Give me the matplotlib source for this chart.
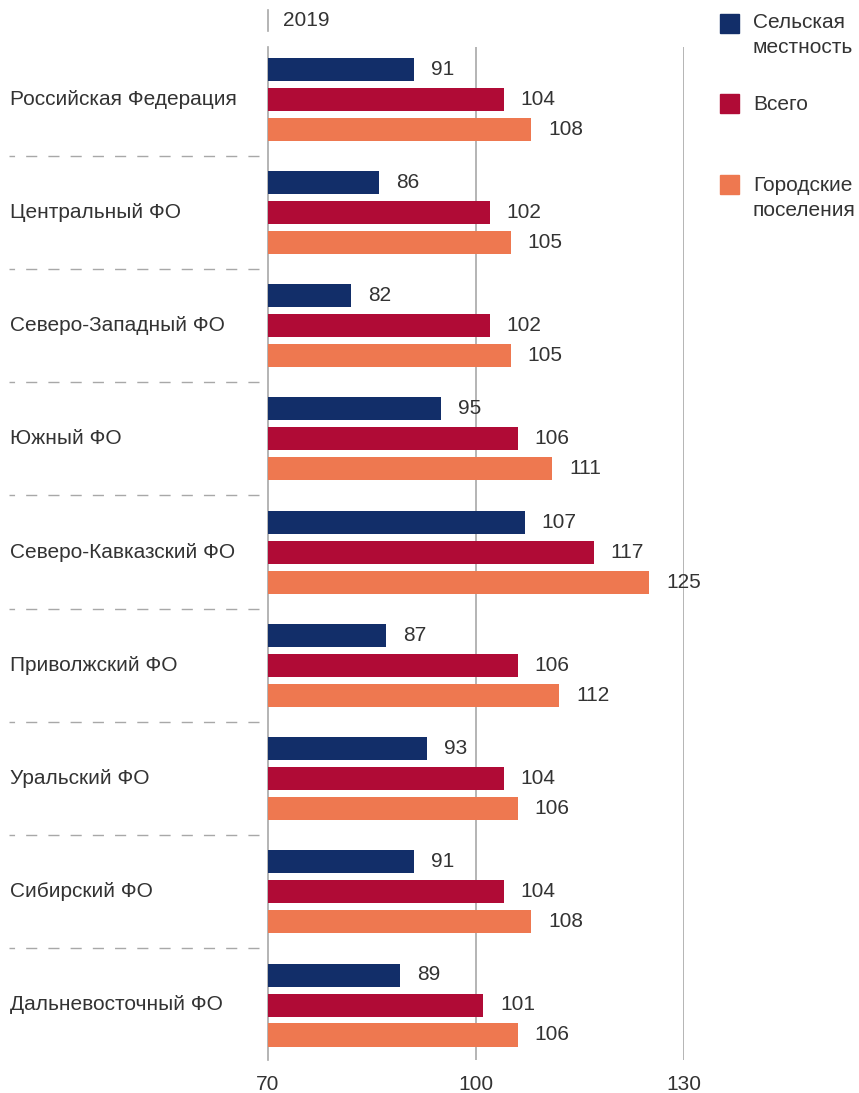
import numpy as np
import matplotlib.pyplot as plt
from matplotlib.lines import Line2D
from matplotlib.patches import Rectangle

plt.rcParams['font.family'] = ['Liberation Sans', 'DejaVu Sans']

# Данные
regions = ['Российская Федерация', 'Центральный ФО', 'Северо-Западный ФО',
           'Южный ФО', 'Северо-Кавказский ФО', 'Приволжский ФО',
           'Уральский ФО', 'Сибирский ФО', 'Дальневосточный ФО']
rural = [91, 86, 82, 95, 107, 87, 93, 91, 89]
total = [104, 102, 102, 106, 117, 106, 104, 104, 101]
urban = [108, 105, 105, 111, 125, 112, 106, 108, 106]
series_names = ['Сельская\nместность', 'Всего', 'Городские\nпоселения']
year_label = '2019'
x_ticks = [70, 100, 130]

colors = ['#122E69', '#B00B36', '#EE7850']
grey = '#A8A8A8'
txt = '#333333'

W, H = 859, 1093
fig = plt.figure(figsize=(W / 100, H / 100), dpi=100)

def fx(px):
    return px / W

def fy(py):
    return 1 - py / H

ax = fig.add_axes([fx(268), fy(1060), fx(684) - fx(268), fy(47) - fy(1060)])

n = len(regions)
pos = np.arange(n)
step = 113.25
off = 30 / step
bh = 23 / step

for k, vals in enumerate([rural, total, urban]):
    yy = pos + (k - 1) * off
    ax.barh(yy, np.array(vals) - 70, left=70, height=bh, color=colors[k], zorder=3)
    for y, v in zip(yy, vals):
        ax.text(v + 17 / 6.93, y, str(v), va='center', ha='left',
                fontsize=15, color=txt, clip_on=False)

ax.set_xlim(70, 130)
ax.set_ylim(n - 1 + (1060 - 99 - 8 * step) / step, (47 - 99) / step)

# Сетка
for t in x_ticks[1:]:
    ax.axvline(t, color=grey, lw=1.2, zorder=1)
for s in ['top', 'right', 'bottom']:
    ax.spines[s].set_visible(False)
ax.spines['left'].set_color(grey)
ax.spines['left'].set_linewidth(1.2)

ax.set_xticks(x_ticks)
ax.set_xticklabels([str(t) for t in x_ticks])
ax.tick_params(axis='x', length=0, pad=11, labelsize=15, labelcolor=txt)
ax.set_yticks([])

# Подписи регионов и пунктирные разделители
trans = ax.get_yaxis_transform()
x0 = (10 - 268) / (684 - 268)
xd = (9 - 268) / (684 - 268)
for i, name in enumerate(regions):
    ax.text(x0, i, name, transform=trans, va='center', ha='left',
            fontsize=15, color=txt)
    if i < n - 1:
        ax.plot([xd, 0], [i + 0.5, i + 0.5], transform=trans, color=grey,
                lw=1.0, ls=(4, (8, 8)), clip_on=False)

# Год сверху
fig.add_artist(Line2D([fx(268), fx(268)], [fy(10), fy(31)],
                      transform=fig.transFigure, color=grey, lw=1.2))
fig.text(fx(283), fy(20), year_label, va='center', ha='left', fontsize=15, color=txt)

# Легенда
sq_y = [14, 94, 175]
txt_y = [35, 104, 198]
for k in range(3):
    fig.add_artist(Rectangle((fx(720), fy(sq_y[k] + 19)), fx(19), 19 / H,
                             transform=fig.transFigure, color=colors[k]))
    fig.text(fx(753), fy(txt_y[k]), series_names[k], va='center', ha='left',
             fontsize=15, color=txt, linespacing=1.35)

plt.savefig('out.png', dpi=100)
